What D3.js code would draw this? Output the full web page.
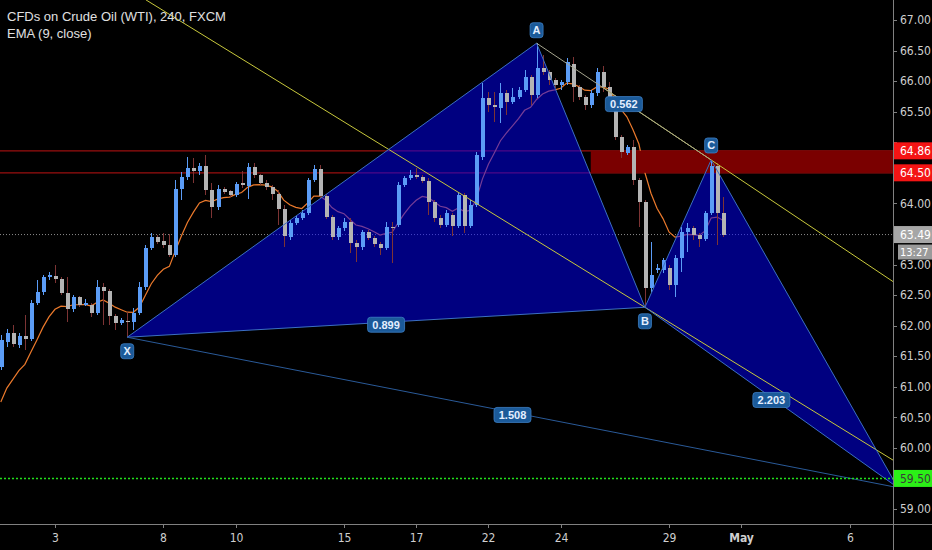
<!DOCTYPE html>
<html><head><meta charset="utf-8">
<script src="https://cdn.jsdelivr.net/npm/d3@7"></script>
<style>html,body{margin:0;padding:0;background:#000;overflow:hidden}</style>
</head><body>
<svg id="c" width="932" height="550"></svg>
<script>
// ---------- data ----------
const opens  = [61.32,61.73,61.88,61.68,61.83,61.78,62.37,62.55,62.80,62.81,62.76,62.53,62.27,62.47,62.34,62.34,62.21,62.63,62.57,62.16,62.04,62.08,62.06,62.21,62.63,63.27,63.45,63.38,63.32,63.16,64.24,64.43,64.58,64.53,64.61,64.22,63.94,64.24,64.20,64.14,64.33,64.28,64.60,64.46,64.33,64.27,64.15,63.91,63.45,63.68,63.76,63.84,64.38,64.56,64.12,63.78,63.45,63.60,63.70,63.35,63.29,63.53,63.43,63.34,63.27,63.61,63.65,64.30,64.42,64.46,64.43,64.37,64.02,63.76,63.65,63.81,63.63,64.14,63.63,63.97,64.76,65.72,65.61,65.56,65.81,65.66,65.74,65.85,66.07,65.77,66.21,66.15,66.02,65.94,65.99,66.28,65.90,65.74,65.61,65.81,66.15,65.90,65.74,65.09,64.82,64.92,64.38,64.02,62.62,62.91,62.91,62.94,62.66,63.11,63.53,63.60,63.48,63.42,63.84,64.61,63.84];
const highs  = [61.85,61.94,62.01,61.88,62.17,62.42,62.75,62.83,62.88,62.99,62.80,62.80,62.50,62.48,62.43,62.37,62.75,62.70,62.60,62.19,62.12,62.22,62.29,62.71,63.32,63.52,63.48,63.52,63.50,64.38,64.51,64.76,64.74,64.66,64.79,64.33,64.30,64.27,64.22,64.35,64.53,64.66,64.66,64.48,64.38,64.30,64.22,63.97,63.73,63.79,63.89,64.42,64.63,64.63,64.15,63.81,63.63,63.76,63.76,63.40,63.56,63.56,63.47,63.37,63.70,63.69,64.35,64.45,64.55,64.58,64.46,64.42,64.06,63.81,63.89,63.84,64.17,64.17,64.06,64.84,65.97,65.82,65.82,65.97,65.85,65.89,65.90,66.18,66.10,66.62,66.43,66.18,66.05,66.02,66.38,66.39,65.94,65.77,65.85,66.21,66.25,65.98,65.77,65.12,64.95,65.04,64.42,64.06,63.37,63.01,63.11,62.99,63.16,63.61,63.68,63.63,63.52,63.88,64.71,64.66,64.10];
const lows   = [61.27,61.65,61.65,61.63,61.60,61.75,62.34,62.50,62.75,62.70,62.50,62.06,62.22,62.30,62.32,62.14,62.17,62.01,62.01,61.93,62.01,61.81,61.93,62.17,62.58,63.24,63.34,63.27,63.12,63.12,64.06,64.38,64.33,64.46,64.14,63.76,63.89,64.15,64.10,64.10,64.25,64.07,64.42,64.30,64.22,64.06,63.65,63.29,63.40,63.65,63.73,63.81,64.35,64.08,63.74,63.40,63.40,63.55,63.19,63.04,63.24,63.40,63.29,63.16,63.24,63.02,63.61,64.27,64.38,64.40,64.33,63.81,63.70,63.60,63.61,63.47,63.60,63.52,63.60,63.94,64.71,65.49,65.33,65.32,65.45,65.63,65.71,65.82,65.61,65.72,66.10,65.94,65.89,65.85,65.94,65.66,65.69,65.53,65.56,65.76,65.82,65.66,65.04,64.74,64.79,64.30,63.61,62.30,62.55,62.86,62.86,62.58,62.47,62.88,63.20,63.40,63.29,63.39,63.81,63.32,63.45];
const closes = [61.76,61.88,61.70,61.83,61.78,62.37,62.55,62.80,62.83,62.76,62.53,62.27,62.47,62.34,62.37,62.21,62.63,62.57,62.16,62.04,62.09,62.06,62.21,62.63,63.27,63.45,63.37,63.32,63.16,64.24,64.43,64.58,64.53,64.61,64.22,63.94,64.24,64.19,64.14,64.32,64.30,64.60,64.46,64.33,64.27,64.15,63.91,63.47,63.68,63.76,63.84,64.38,64.56,64.12,63.78,63.45,63.60,63.70,63.35,63.29,63.53,63.43,63.34,63.27,63.61,63.60,64.30,64.42,64.46,64.43,64.37,64.02,63.76,63.65,63.84,63.63,64.14,63.63,63.97,64.79,65.72,65.61,65.58,65.81,65.66,65.74,65.85,66.07,65.77,66.21,66.15,66.02,65.94,65.99,66.31,65.90,65.74,65.61,65.81,66.15,65.90,65.74,65.09,64.84,64.92,64.38,64.02,62.62,62.83,62.94,63.07,62.66,63.11,63.53,63.60,63.48,63.42,63.84,64.61,63.84,63.49];
const emaPeriod = 9;
const emaSeed = 60.5;

const dateTickIndex  = [9, 27, 39, 57, 69, 81, 93, 111, 123, 141];
const dateTickLabels = ["3","8","10","15","17","22","24","29","May","6"];
const priceTicks = [59,59.5,60,60.5,61,61.5,62,62.5,63,63.5,64,64.5,65,65.5,66,66.5,67];

const patternNames = ["X","A","B","C","D"];
const patternIndex = [21, 89, 107, 118, 149];
const patternPrice = [61.81, 66.62, 62.30, 64.71, 59.35];
const ratioPairs  = [[0,2],[1,3],[2,4],[0,4]];
const ratioLabels = ["0.899","0.562","2.203","1.508"];

const trendIndex = [24.1, 107];
const trendPrice = [67.33, 62.30];
const trend2Start = 100;

const resistanceLevels = [64.86, 64.50];
const zoneStartIndex = 98;
const lastPrice = 63.49;
const countdown = "13:27";
const targetLevel = 59.50;

const title1 = "CFDs on Crude Oil (WTI), 240, FXCM";
const title2 = "EMA (9, close)";

// ---------- setup ----------
const W = 932, H = 550, plotR = 893, plotB = 524;
const svg = d3.select("#c");
svg.append("rect").attr("width",W).attr("height",H).attr("fill","#000");
const x = d3.scaleLinear().domain([0,149]).range([0.8, 0.8+6.02*149]);
const y = d3.scaleLinear().domain([59,67]).range([509,20]);

svg.append("defs").append("clipPath").attr("id","clip")
  .append("rect").attr("x",0).attr("y",0).attr("width",plotR).attr("height",plotB);
const g = svg.append("g").attr("clip-path","url(#clip)");

// horizontal resistance lines
resistanceLevels.forEach(v=>{
  g.append("line").attr("x1",0).attr("x2",plotR).attr("y1",y(v)).attr("y2",y(v))
   .attr("stroke","#9a0f0f").attr("stroke-width",1.2);
});
// last price dotted
g.append("line").attr("x1",0).attr("x2",plotR).attr("y1",y(lastPrice)).attr("y2",y(lastPrice))
  .attr("stroke","#8a8a8a").attr("stroke-width",1).attr("stroke-dasharray","1,2");

// EMA
const ema = [];
closes.forEach((c,i)=>{ const prev = i===0 ? emaSeed : ema[i-1]; ema.push(prev + (2/(emaPeriod+1))*(c-prev)); });
g.append("path").datum(ema)
  .attr("d", d3.line().x((d,i)=>x(i)).y(d=>y(d)))
  .attr("fill","none").attr("stroke","#ec7a2c").attr("stroke-width",1.2);

// pattern fill
const P = patternIndex.map((v,i)=>[x(v), y(patternPrice[i])]);
[[0,1,2],[2,3,4]].forEach(tri=>{
  g.append("path").attr("d", d3.line()(tri.map(k=>P[k])) + "Z")
   .attr("fill","rgba(0,0,255,0.5)").attr("stroke","none");
});

// resistance zone
g.append("rect").attr("x", x(zoneStartIndex)).attr("width", plotR - x(zoneStartIndex))
  .attr("y", y(resistanceLevels[0])).attr("height", y(resistanceLevels[1]) - y(resistanceLevels[0]))
  .attr("fill","#7a0000");

// candles
const cg = g.append("g").attr("shape-rendering","crispEdges");
closes.forEach((c,i)=>{
  const o = opens[i], up = c >= o;
  const cx = Math.round(x(i));
  cg.append("line").attr("x1",cx+0.5).attr("x2",cx+0.5).attr("y1",y(highs[i])).attr("y2",y(lows[i]))
    .attr("stroke", up ? "#5b9cf6" : "#7d3434").attr("stroke-width",1);
  const top = y(Math.max(o,c)), bot = y(Math.min(o,c));
  cg.append("rect").attr("x",cx-1.5).attr("width",4).attr("y",top).attr("height",Math.max(1,bot-top))
    .attr("fill", up ? "#5b9cf6" : "#b4b4b4");
});

// trend lines
function priceAt(i, i0, p0, i1, p1){ return p0 + (p1-p0)*(i-i0)/(i1-i0); }
const iEnd = x.invert(plotR+2);
g.append("line").attr("x1",x(trendIndex[0])).attr("y1",y(trendPrice[0]))
  .attr("x2",x(iEnd)).attr("y2",y(priceAt(iEnd,trendIndex[0],trendPrice[0],trendIndex[1],trendPrice[1])))
  .attr("stroke","#c8c83c").attr("stroke-width",1);
const [ia,ic] = [patternIndex[1], patternIndex[3]], [pa,pc] = [patternPrice[1], patternPrice[3]];
g.append("line").attr("x1",x(trend2Start)).attr("y1",y(priceAt(trend2Start,ia,pa,ic,pc)))
  .attr("x2",x(iEnd)).attr("y2",y(priceAt(iEnd,ia,pa,ic,pc)))
  .attr("stroke","#c8c83c").attr("stroke-width",1);

// pattern outlines and ratio lines
[[0,1],[1,2],[2,3],[3,4],[0,2],[2,4]].forEach(([a,b])=>{
  g.append("line").attr("x1",P[a][0]).attr("y1",P[a][1]).attr("x2",P[b][0]).attr("y2",P[b][1])
   .attr("stroke","#3b6fc2").attr("stroke-width",1);
});
g.append("line").attr("x1",P[1][0]).attr("y1",P[1][1]).attr("x2",P[3][0]).attr("y2",P[3][1])
  .attr("stroke","#a5a58e").attr("stroke-width",1);
g.append("line").attr("x1",P[0][0]).attr("y1",P[0][1]).attr("x2",P[4][0]).attr("y2",P[4][1])
  .attr("stroke","#2a5a98").attr("stroke-width",1);

// target dotted
g.append("line").attr("x1",0).attr("x2",plotR).attr("y1",y(targetLevel)).attr("y2",y(targetLevel))
  .attr("stroke","#22e01a").attr("stroke-width",1.5).attr("stroke-dasharray","2,2");

// labels
function boxLabel(cx, cy, text, w){
  const lg = svg.append("g");
  lg.append("rect").attr("x",cx-w/2).attr("y",cy-7.5).attr("width",w).attr("height",15).attr("rx",3)
    .attr("fill","#1b5a99").attr("stroke","#3d7fc4").attr("stroke-width",0.8);
  lg.append("text").attr("x",cx).attr("y",cy).attr("text-anchor","middle").attr("dy","0.36em")
    .attr("font-family","Liberation Sans, Arial, sans-serif").attr("font-size",11).attr("font-weight","bold")
    .attr("fill","#e3eeff").text(text);
}
const letterOffset = [14, -13, 14, -14.5];
patternNames.slice(0,4).forEach((n,k)=> boxLabel(P[k][0], P[k][1]+letterOffset[k], n, 13));
ratioPairs.forEach(([a,b],k)=> boxLabel((P[a][0]+P[b][0])/2, (P[a][1]+P[b][1])/2+2.5, ratioLabels[k], 37));

// axes
svg.append("line").attr("x1",plotR+0.5).attr("x2",plotR+0.5).attr("y1",0).attr("y2",H).attr("stroke","#808080");
svg.append("line").attr("x1",0).attr("x2",W).attr("y1",plotB+0.5).attr("y2",plotB+0.5).attr("stroke","#808080");
const axFont = "Liberation Sans Narrow, Arial Narrow, DejaVu Sans Condensed, sans-serif";
const tagLevels = [resistanceLevels[0], resistanceLevels[1], lastPrice, targetLevel];
priceTicks.forEach(v=>{
  svg.append("line").attr("x1",plotR).attr("x2",plotR+4).attr("y1",Math.round(y(v))+0.5).attr("y2",Math.round(y(v))+0.5).attr("stroke","#808080");
  const hidden = tagLevels.some(t=>Math.abs(y(t)-y(v))<10);
  if (!hidden) svg.append("text").attr("x",plotR+7).attr("y",y(v)).attr("dy","0.35em").attr("font-family",axFont)
    .attr("font-size",12).attr("fill","#cfcfcf").text(v.toFixed(2));
});
dateTickIndex.forEach((ix,k)=>{
  const xx = Math.round(x(ix))+0.5;
  svg.append("line").attr("x1",xx).attr("x2",xx).attr("y1",plotB).attr("y2",plotB+4).attr("stroke","#808080");
  svg.append("text").attr("x",xx).attr("y",542).attr("text-anchor","middle").attr("font-family",axFont)
    .attr("font-size",12).attr("font-weight", dateTickLabels[k]==="May" ? "bold" : "normal")
    .attr("fill","#cfcfcf").text(dateTickLabels[k]);
});

// price tags
function tag(v, text, fill, color, x0){
  const cy = y(v);
  svg.append("rect").attr("x",x0).attr("y",cy-8.5).attr("width",W-x0).attr("height",17).attr("fill",fill);
  svg.append("text").attr("x",plotR+7).attr("y",cy).attr("dy","0.35em").attr("font-family",axFont)
    .attr("font-size",12).attr("fill",color).text(text);
}
tag(resistanceLevels[0], resistanceLevels[0].toFixed(2), "#f41414", "#ffffff", plotR+1);
tag(resistanceLevels[1], resistanceLevels[1].toFixed(2), "#f41414", "#ffffff", plotR+1);
tag(lastPrice, lastPrice.toFixed(2), "#a6a6a6", "#ffffff", plotR+1);
(function(){
  const cy = y(lastPrice)+17.5;
  svg.append("rect").attr("x",898).attr("y",cy-7.5).attr("width",W-898).attr("height",15).attr("fill","#9a9a9a");
  svg.append("text").attr("x",plotR+7).attr("y",cy).attr("dy","0.34em").attr("font-family",axFont)
    .attr("font-size",11).attr("fill","#ffffff").text(countdown);
})();
tag(targetLevel, targetLevel.toFixed(2), "#2bef17", "#3a3a3a", plotR+1);

// title
svg.append("text").attr("x",7).attr("y",21).attr("font-family","Liberation Sans Narrow, Arial Narrow, sans-serif")
  .attr("font-size",13).attr("fill","#e0e0e0").text(title1);
svg.append("text").attr("x",7).attr("y",38).attr("font-family","Liberation Sans Narrow, Arial Narrow, sans-serif")
  .attr("font-size",13).attr("fill","#e0e0e0").text(title2);
</script>
</body></html>
